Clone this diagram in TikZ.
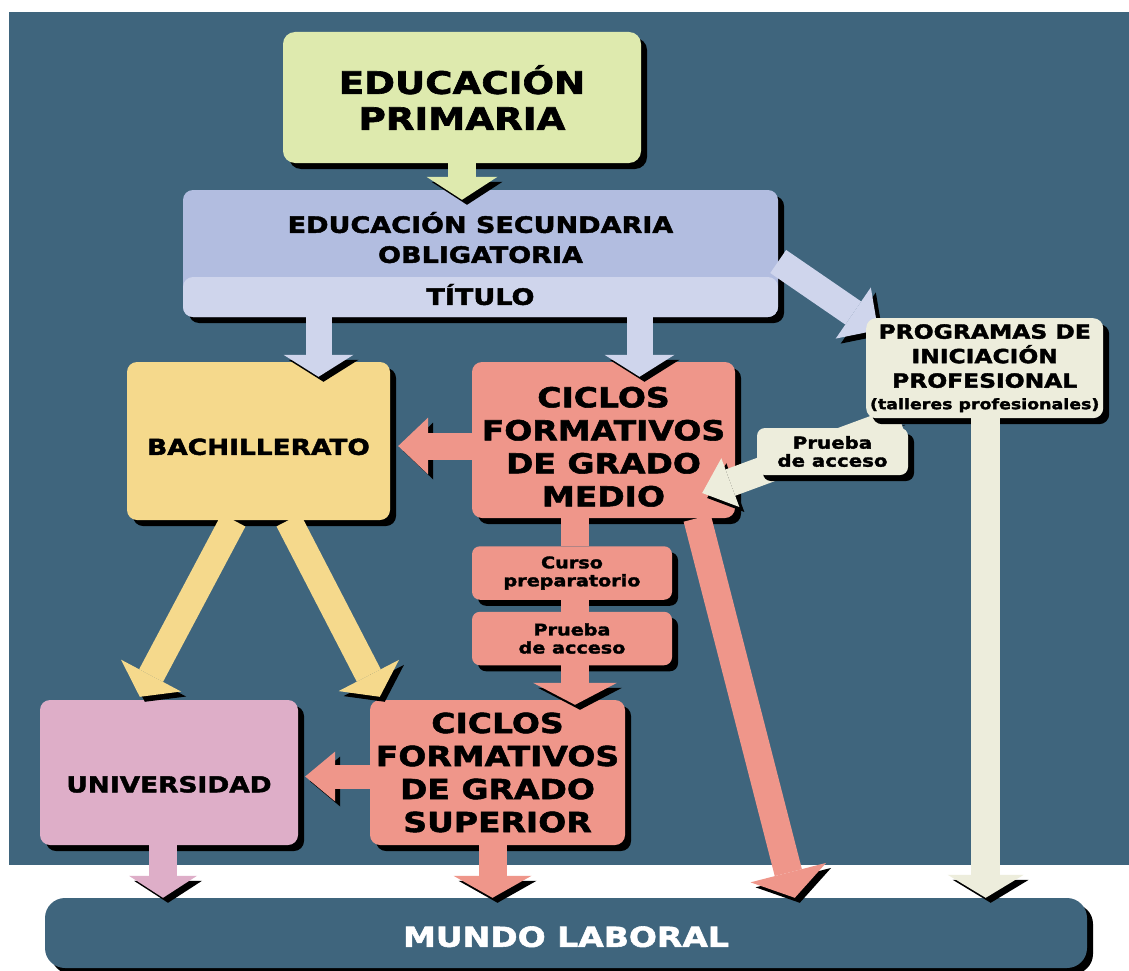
\documentclass[tikz,border=0pt]{standalone}
\usepackage{fontspec}
\setmainfont[FakeStretch=1.2, BoldFeatures={FakeBold=2}]{DejaVu Sans}
\usetikzlibrary{arrows.meta,calc,shadows}
\definecolor{backblue}{RGB}{63,101,125}
\definecolor{primgreen}{RGB}{222,234,174}
\definecolor{esolav}{RGB}{178,189,224}
\definecolor{esolight}{RGB}{207,213,236}
\definecolor{bachyellow}{RGB}{245,217,140}
\definecolor{cicsalmon}{RGB}{239,150,138}
\definecolor{unipink}{RGB}{222,174,200}
\definecolor{pipcream}{RGB}{237,237,220}
\tikzset{
  panel/.style={
    rounded corners=10pt, inner sep=0pt, align=center,
    drop shadow={shadow xshift=6pt, shadow yshift=-6pt, opacity=1, fill=black}
  },
  primbox/.style={
    panel, fill=primgreen, rounded corners=12pt,
    minimum width=358pt, minimum height=131pt,
    font=\bfseries\fontsize{31}{36}\selectfont
  },
  esobox/.style={
    panel, fill=esolav, minimum width=595pt, minimum height=127pt,
    font=\bfseries\fontsize{22.5}{30}\selectfont,
    path picture={\fill[esolight] ([yshift=40pt]path picture bounding box.south west)
      rectangle (path picture bounding box.south east);}
  },
  bachbox/.style={
    panel, fill=bachyellow, minimum width=263pt, minimum height=158pt,
    text height=28pt, font=\bfseries\fontsize{22}{26}\selectfont
  },
  cicbox/.style={
    panel, fill=cicsalmon, font=\bfseries\fontsize{27.5}{33}\selectfont
  },
  stepbox/.style={
    panel, fill=cicsalmon, rounded corners=8pt,
    minimum width=200pt, minimum height=53.5pt,
    font=\bfseries\fontsize{16}{18}\selectfont
  },
  unibox/.style={
    panel, fill=unipink, minimum width=258pt, minimum height=145pt,
    text height=40pt, font=\bfseries\fontsize{22}{26}\selectfont
  },
  pipbox/.style={
    panel, fill=pipcream, minimum width=237pt, minimum height=100pt,
    font=\bfseries\fontsize{19.5}{24.5}\selectfont
  },
  callout/.style={
    panel, fill=pipcream, rounded corners=8pt,
    minimum width=151pt, minimum height=47pt,
    font=\bfseries\fontsize{16.5}{18}\selectfont
  },
  mundobox/.style={
    panel, fill=backblue, text=white, rounded corners=20pt,
    minimum width=1042pt, minimum height=70pt,
    text height=28pt, font=\bfseries\fontsize{27.5}{30}\selectfont
  },
  flow/.style n args={4}{
    draw=#1, line width=#2, -{Triangle[width=#3, length=#4, line width=0pt]}
  },
  castshadow/.style={
    preaction={draw=black, #1, transform canvas={shift={(5pt,-5pt)}}}
  },
  castshadow/.default={},
  link/.style={draw=cicsalmon, line width=28pt, castshadow={shorten >=5pt}}
}
\begin{document}
\begin{tikzpicture}[x=1pt,y=-1pt]
  \useasboundingbox (0,0) rectangle (1129,971);
  % Page and backdrop
  \fill[white] (0,0) rectangle (1129,971);
  \fill[backblue] (9,12) rectangle (1129,865);

  % Compulsory stages
  \node[primbox] (primaria) at (462,97.5) {EDUCACIÓN\\PRIMARIA};
  \node[esobox] (eso) at (480.5,253.5)
    {\rule{0pt}{31pt}EDUCACIÓN SECUNDARIA\\OBLIGATORIA\\[12pt]TÍTULO};

  % Post-compulsory stages
  \node[bachbox] (bach) at (258.5,441) {BACHILLERATO};
  \node[cicbox, minimum width=263pt, minimum height=156pt] (cfgm) at (603.5,440)
    {\rule{0pt}{34pt}CICLOS\\FORMATIVOS\\DE GRADO\\MEDIO};
  \node[stepbox] (curso) at (572,573) {Curso\\preparatorio};
  \node[stepbox] (prueba) at (572,638.5) {Prueba\\de acceso};
  \node[cicbox, minimum width=255pt, minimum height=145pt] (cfgs) at (497.5,772.5)
    {CICLOS\\FORMATIVOS\\DE GRADO\\SUPERIOR};
  \node[unibox] (univ) at (169,772.5) {UNIVERSIDAD};
  \node[mundobox] (mundo) at (566,933) {MUNDO LABORAL};

  % Primaria to ESO, ESO to the two branches
  \draw[flow={primgreen}{28pt}{71pt}{23pt}, castshadow, shorten >=-10pt]
    (primaria.south) -- (primaria.south |- eso.north);
  \draw[flow={esolight}{26pt}{70pt}{22pt}, castshadow, shorten >=-15pt]
    ($(bach.north |- eso.south)+(60,0)$) -- ($(bach.north)+(60,0)$);
  \draw[flow={esolight}{26pt}{70pt}{22pt}, castshadow, shorten >=-15pt]
    ($(cfgm.north |- eso.south)+(36,0)$) -- ($(cfgm.north)+(36,0)$);

  % Grado medio to bachillerato and on to grado superior
  \draw[flow={cicsalmon}{27pt}{57pt}{30pt}, castshadow={shorten <=5pt}, shorten >=8pt]
    ($(cfgm.west)+(0,6)$) -- ($(cfgm.west -| bach.east)+(0,6)$);
  \draw[link] ($(cfgm.south -| curso.north)+(3,0)$) -- ($(curso.north)+(3,0)$);
  \draw[link] ($(curso.south)+(3,0)$) -- ($(prueba.north)+(3,0)$);
  \draw[flow={cicsalmon}{28pt}{84pt}{22pt}, castshadow, shorten >=-5pt]
    ($(prueba.south)+(3,0)$) -- ($(prueba.south |- cfgs.north)+(3,0)$);

  % Bachillerato to universidad and grado superior
  \draw[flow={bachyellow}{27pt}{68pt}{24pt}, castshadow]
    ($(bach.south)+(-25,0)$) -- ($(univ.north west)+(100,-3)$);
  \draw[flow={bachyellow}{27pt}{68pt}{24pt}, castshadow]
    ($(bach.south)+(30,0)$) -- ($(cfgs.north west)+(10,-3)$);
  \draw[flow={cicsalmon}{24pt}{50pt}{30pt}, castshadow={shorten <=5pt}, shorten >=7pt]
    ($(cfgs.west)+(0,4)$) -- ($(univ.east)+(0,4)$);

  % Everything ends in the labour market
  \draw[flow={cicsalmon}{28pt}{78pt}{26pt}, castshadow]
    ($(cfgm.south east)+(-38,0)$) -- ($(mundo.north west)+(750,0)$);
  \draw[flow={unipink}{28pt}{68pt}{22pt}, castshadow]
    ($(univ.south)+(-6,0)$) -- ($(univ.south |- mundo.north)+(-6,0)$);
  \draw[flow={cicsalmon}{28pt}{78pt}{22pt}, castshadow]
    ($(cfgs.south)+(-5,0)$) -- ($(cfgs.south |- mundo.north)+(-5,0)$);

  % Initiation programmes
  \coordinate (pipcorner) at (866,318);
  \draw[flow={esolight}{28pt}{62pt}{30pt}, castshadow]
    ($(eso.east)+(0,8)$) -- ($(pipcorner)+(12,12)$);
  \draw[flow={pipcream}{28pt}{52pt}{30pt}, castshadow]
    ($(pipcorner)+(34,102)$) -- ($(cfgm.east)+(-33,53)$);
  \node[pipbox, anchor=north west] (pip) at (pipcorner)
    {PROGRAMAS DE\\INICIACIÓN\\PROFESIONAL\\[-3pt]{\fontsize{14.5}{16}\selectfont(talleres profesionales)}};
  \node[callout] (acceso) at (832.5,451.5) {Prueba\\de acceso};
  \draw[flow={pipcream}{29pt}{76pt}{23pt}, castshadow]
    ($(pip.south)+(1,0)$) -- ($(pip.south |- mundo.north)+(1,0)$);
\end{tikzpicture}
\end{document}
